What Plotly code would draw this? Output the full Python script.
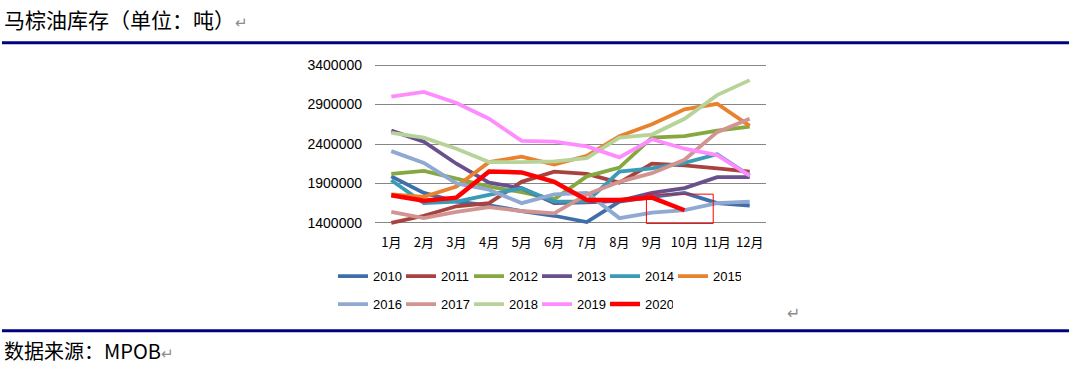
import plotly.graph_objects as go

W, H = 1069, 370
months = ["1月", "2月", "3月", "4月", "5月", "6月", "7月", "8月", "9月", "10月", "11月", "12月"]
years = ["2010", "2011", "2012", "2013", "2014", "2015", "2016", "2017", "2018", "2019", "2020"]

s2010 = [1990000, 1780000, 1670000, 1620000, 1550000, 1490000, 1410000, 1670000, 1730000, 1780000, 1650000, 1620000]
s2011 = [1400000, 1490000, 1610000, 1650000, 1920000, 2050000, 2020000, 1910000, 2150000, 2130000, 2090000, 2050000]
s2012 = [2020000, 2060000, 1960000, 1860000, 1790000, 1700000, 1990000, 2100000, 2480000, 2500000, 2570000, 2620000]
s2013 = [2570000, 2430000, 2150000, 1910000, 1840000, 1650000, 1660000, 1680000, 1780000, 1840000, 1980000, 1980000]
s2014 = [1940000, 1650000, 1670000, 1750000, 1840000, 1670000, 1670000, 2050000, 2090000, 2160000, 2270000, 2000000]
s2015 = [1760000, 1730000, 1860000, 2170000, 2240000, 2140000, 2250000, 2500000, 2650000, 2840000, 2910000, 2630000]
s2016 = [2310000, 2160000, 1900000, 1820000, 1650000, 1760000, 1780000, 1460000, 1530000, 1560000, 1650000, 1670000]
s2017 = [1540000, 1460000, 1540000, 1600000, 1550000, 1520000, 1760000, 1920000, 2030000, 2200000, 2550000, 2720000]
s2018 = [2540000, 2480000, 2340000, 2170000, 2170000, 2180000, 2220000, 2480000, 2520000, 2720000, 3020000, 3210000]
s2019 = [3000000, 3060000, 2920000, 2720000, 2440000, 2430000, 2370000, 2230000, 2460000, 2340000, 2260000, 2000000]
s2020 = [1750000, 1680000, 1720000, 2050000, 2040000, 1920000, 1690000, 1690000, 1720000, 1560000]

series = [s2010, s2011, s2012, s2013, s2014, s2015, s2016, s2017, s2018, s2019, s2020]
colors = ["#3F6EAA", "#A8423F", "#86A840", "#6A4F8E", "#3A9BB5", "#E8822F",
          "#8FA9D3", "#D29491", "#B8D39A", "#FF8CFF", "#FF0000"]
widths = [3.8, 3.8, 3.8, 3.8, 3.8, 3.8, 3.8, 3.8, 3.8, 3.8, 4.5]

y_ticks = [1400000, 1900000, 2400000, 2900000, 3400000]
pad = 40000
y_range = [1400000 - pad, 3400000 + pad]

# plot-area pixel geometry (gridline 3.4M at y=65, 1.4M at y=222.7)
L, R = 375, 766
PX_PER_UNIT = (222.7 - 65) / 2000000
T, B = 65 - pad * PX_PER_UNIT, 222.7 + pad * PX_PER_UNIT
PW, PH = R - L, B - T

def px(x):
    return (x - L) / PW

def py(y):
    return (B - y) / PH

fig = go.Figure()
for i, (yr, vals) in enumerate(zip(years, series)):
    fig.add_trace(go.Scatter(
        x=months[:len(vals)], y=vals, mode="lines", name=yr,
        line=dict(color=colors[i], width=widths[i]),
        legend="legend" if i < 6 else "legend2",
    ))

leg_common = dict(orientation="h", font=dict(family="Liberation Sans, Arial", size=13, color="#000"),
                  bgcolor="rgba(0,0,0,0)", entrywidth=23, entrywidthmode="pixels",
                  itemwidth=30, xanchor="left", yanchor="middle", tracegroupgap=0)
fig.update_layout(
    width=W, height=H,
    margin=dict(l=L, r=W - R, t=T, b=H - B),
    plot_bgcolor="white", paper_bgcolor="white",
    showlegend=True,
    legend=dict(x=px(333), y=py(276), **leg_common),
    legend2=dict(x=px(333), y=py(304), **leg_common),
    xaxis=dict(type="category", categoryorder="array", categoryarray=months,
               range=[-0.5, 11.5], showgrid=False, showline=False, zeroline=False,
               ticks="", ticklabelstandoff=7,
               tickfont=dict(family="Noto Sans CJK SC", size=13, color="#000")),
    yaxis=dict(range=y_range, tickvals=y_ticks, ticktext=[str(v) for v in y_ticks],
               showgrid=True, gridcolor="#868686", gridwidth=1, zeroline=False,
               showline=False, ticks="", ticklabelstandoff=12,
               tickfont=dict(family="Liberation Sans, Arial", size=14, color="#000")),
)

# red highlight box
fig.add_shape(type="rect", xref="x", yref="paper", x0=7.83, x1=9.88, y0=py(223.3), y1=py(194),
              line=dict(color="#FF0000", width=1), fillcolor="rgba(0,0,0,0)", layer="above")

# document rules
for yline in (42.5, 330.5):
    fig.add_shape(type="line", xref="paper", yref="paper", x0=px(2), x1=px(W), y0=py(yline), y1=py(yline),
                  line=dict(color="#000080", width=3))

fig.add_annotation(xref="paper", yref="paper", x=px(2), y=py(18.5), xanchor="left", yanchor="middle",
                   showarrow=False, text="马棕油库存（单位：吨）<span style='color:#8c8c8c;font-size:15px'>↵</span>",
                   font=dict(family="Noto Sans CJK SC", size=21, color="#000"))
fig.add_annotation(xref="paper", yref="paper", x=px(2), y=py(350), xanchor="left", yanchor="middle",
                   showarrow=False, text="数据来源：MPOB<span style='color:#8c8c8c;font-size:15px'>↵</span>",
                   font=dict(family="Noto Sans CJK SC", size=20, color="#000"))
fig.add_annotation(xref="paper", yref="paper", x=px(793), y=py(313), xanchor="center", yanchor="middle",
                   showarrow=False, text="↵", font=dict(family="DejaVu Sans", size=16, color="#8c8c8c"))

fig.write_html("out.html", config={"displayModeBar": False},
               post_script="document.body.style.margin='0px';")
